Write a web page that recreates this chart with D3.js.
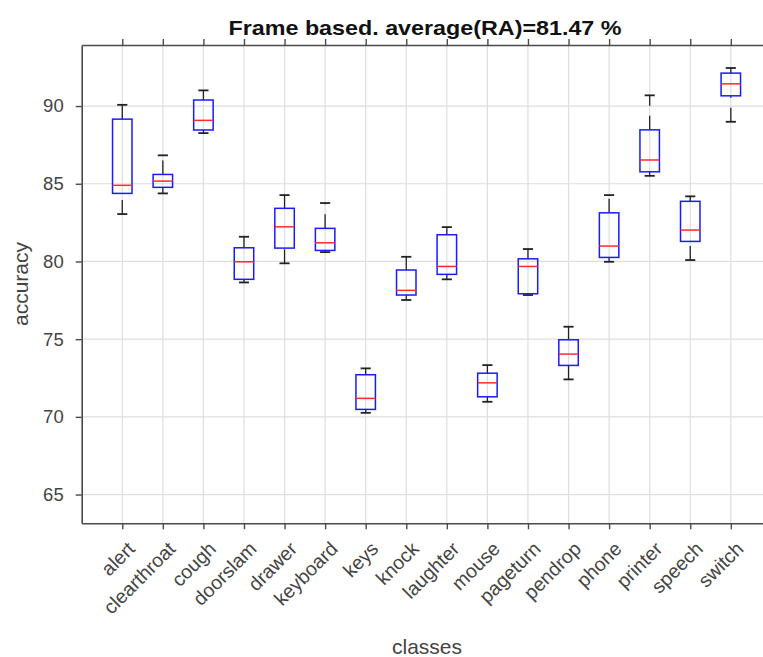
<!DOCTYPE html>
<html>
<head>
<meta charset="utf-8">
<script src="https://cdn.jsdelivr.net/npm/d3@7"></script>
<style>
  html, body { margin: 0; padding: 0; background: #fff; }
  svg { display: block; }
  text { font-family: "Liberation Sans", Arial, Helvetica, sans-serif; }
</style>
</head>
<body>
<svg id="chart" width="763" height="657"></svg>
<script>
// Per-class accuracy distribution (box plot statistics)
const categories = ["alert", "clearthroat", "cough", "doorslam", "drawer", "keyboard", "keys", "knock",
  "laughter", "mouse", "pageturn", "pendrop", "phone", "printer", "speech", "switch"];
const upperWhisker = [90.08, 86.83, 91.01, 81.59, 84.27, 83.76, 73.12, 80.30, 82.21, 73.33, 80.80, 75.80, 84.27, 90.69, 84.19, 92.45];
const q3Values     = [89.16, 85.60, 90.39, 80.88, 83.42, 82.13, 72.71, 79.45, 81.72, 72.81, 80.17, 74.96, 83.13, 88.47, 83.87, 92.12];
const medians      = [84.90, 85.17, 89.08, 79.98, 82.23, 81.20, 71.19, 78.14, 79.68, 72.19, 79.68, 74.04, 80.99, 86.53, 82.02, 91.43];
const q1Values     = [84.38, 84.77, 88.46, 78.85, 80.86, 80.71, 70.48, 77.84, 79.17, 71.29, 77.92, 73.31, 80.26, 85.77, 81.29, 90.66];
const lowerWhisker = [83.05, 84.38, 88.26, 78.65, 79.88, 80.60, 70.26, 77.52, 78.85, 70.97, 77.84, 72.41, 79.98, 85.51, 80.09, 88.99];
const yTicks = [65, 70, 75, 80, 85, 90];
const titleText = "Frame based. average(RA)=81.47 %";
const xLabelText = "classes";
const yLabelText = "accuracy";

(function draw() {
  const boxes = categories.map((c, i) => ({
    name: c, pos: i + 1,
    hi: upperWhisker[i], q3: q3Values[i], med: medians[i], q1: q1Values[i], lo: lowerWhisker[i]
  }));

  const svg = d3.select("#chart");
  const plotLeft = 81.7, plotTop = 45, plotBottom = 523.3, step = 40.57;

  const x = d3.scaleLinear().domain([0, 17]).range([plotLeft, plotLeft + 17 * step]);
  const y = d3.scaleLinear().domain([63.15, 93.93]).range([plotBottom, plotTop]);

  svg.append("rect").attr("width", 763).attr("height", 657).attr("fill", "#fff");

  // grid
  const grid = svg.append("g").attr("stroke", "#dedede").attr("stroke-width", 1.2);
  grid.selectAll("line.v").data(boxes).join("line")
    .attr("x1", d => x(d.pos)).attr("x2", d => x(d.pos))
    .attr("y1", plotTop).attr("y2", plotBottom);
  grid.selectAll("line.h").data(yTicks).join("line")
    .attr("x1", plotLeft).attr("x2", 763)
    .attr("y1", d => y(d)).attr("y2", d => y(d));

  // axes
  const axisColor = "#4a4a4a";
  const xAxisBottom = d3.axisBottom(x).tickValues(boxes.map(d => d.pos)).tickFormat("")
    .tickSizeInner(6).tickSizeOuter(0);
  const xAxisTop = d3.axisTop(x).tickValues(boxes.map(d => d.pos)).tickFormat("")
    .tickSizeInner(6).tickSizeOuter(0);
  const yAxis = d3.axisLeft(y).tickValues(yTicks).tickFormat(d3.format("d"))
    .tickSizeInner(6).tickSizeOuter(0).tickPadding(12);

  const gB = svg.append("g").attr("transform", `translate(0,${plotBottom})`).call(xAxisBottom);
  const gT = svg.append("g").attr("transform", `translate(0,${plotTop})`).call(xAxisTop);
  const gL = svg.append("g").attr("transform", `translate(${plotLeft},0)`).call(yAxis);
  [gB, gT, gL].forEach(g => {
    g.select(".domain").attr("stroke", axisColor).attr("stroke-width", 1.6);
    g.selectAll(".tick line").attr("stroke", axisColor).attr("stroke-width", 1.4);
  });
  gL.selectAll(".tick text")
    .attr("font-size", 18.5).attr("fill", "#444")
    .style("font-family", "'Liberation Sans', Arial, sans-serif");

  // rotated category labels
  svg.append("g").selectAll("text").data(boxes).join("text")
    .attr("transform", d => `translate(${x(d.pos) + 9},${plotBottom + 22}) rotate(-45)`)
    .attr("text-anchor", "end")
    .attr("dy", "0.35em")
    .attr("font-size", 19.5)
    .attr("fill", "#444")
    .text(d => d.name);

  // box plots
  const half = step * 0.24, cap = step * 0.125;
  const bx = svg.append("g");
  const whiskerColor = "#222";

  bx.selectAll("line.uw").data(boxes).join("line")
    .attr("x1", d => x(d.pos)).attr("x2", d => x(d.pos))
    .attr("y1", d => y(d.q3)).attr("y2", d => y(d.hi))
    .attr("stroke", whiskerColor).attr("stroke-width", 1.3).attr("stroke-dasharray", "14,10");
  bx.selectAll("line.lw").data(boxes).join("line")
    .attr("x1", d => x(d.pos)).attr("x2", d => x(d.pos))
    .attr("y1", d => y(d.lo)).attr("y2", d => y(d.q1))
    .attr("stroke", whiskerColor).attr("stroke-width", 1.3).attr("stroke-dasharray", "14,10");
  bx.selectAll("line.uc").data(boxes).join("line")
    .attr("x1", d => x(d.pos) - cap).attr("x2", d => x(d.pos) + cap)
    .attr("y1", d => y(d.hi)).attr("y2", d => y(d.hi))
    .attr("stroke", whiskerColor).attr("stroke-width", 1.8);
  bx.selectAll("line.lc").data(boxes).join("line")
    .attr("x1", d => x(d.pos) - cap).attr("x2", d => x(d.pos) + cap)
    .attr("y1", d => y(d.lo)).attr("y2", d => y(d.lo))
    .attr("stroke", whiskerColor).attr("stroke-width", 1.8);
  bx.selectAll("rect").data(boxes).join("rect")
    .attr("x", d => x(d.pos) - half).attr("width", 2 * half)
    .attr("y", d => y(d.q3)).attr("height", d => y(d.q1) - y(d.q3))
    .attr("fill", "none").attr("stroke", "#1a1aff").attr("stroke-width", 1.5);
  bx.selectAll("line.med").data(boxes).join("line")
    .attr("x1", d => x(d.pos) - half).attr("x2", d => x(d.pos) + half)
    .attr("y1", d => y(d.med)).attr("y2", d => y(d.med))
    .attr("stroke", "#ff2a2a").attr("stroke-width", 1.5);

  // title and axis labels
  svg.append("text").attr("x", 425).attr("y", 35)
    .attr("text-anchor", "middle").attr("font-size", 21).attr("font-weight", "bold")
    .attr("fill", "#111").attr("textLength", 393).attr("lengthAdjust", "spacingAndGlyphs")
    .text(titleText);
  svg.append("text").attr("x", 427).attr("y", 654)
    .attr("text-anchor", "middle").attr("font-size", 21).attr("fill", "#444")
    .text(xLabelText);
  svg.append("text").attr("transform", "translate(28,284) rotate(-90)")
    .attr("text-anchor", "middle").attr("font-size", 21).attr("fill", "#444")
    .text(yLabelText);
})();
</script>
</body>
</html>
